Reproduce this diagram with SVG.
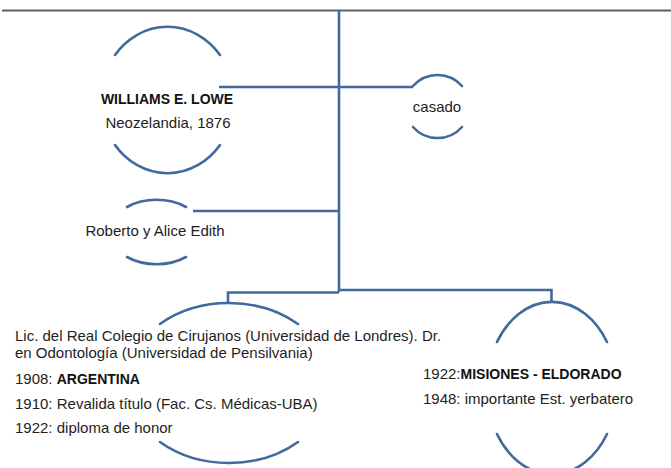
<svg xmlns="http://www.w3.org/2000/svg" width="671" height="468" viewBox="0 0 671 468">
<style>
.ln{fill:none;stroke:#41699d;stroke-width:2.6;stroke-linecap:butt}
.arc{fill:none;stroke:#41699d;stroke-width:2.6;stroke-linecap:round}
text{font-family:"Liberation Sans",Arial,sans-serif;font-size:15px;fill:#1e1e1e}
.b{font-weight:bold;font-size:14px;fill:#111}
.c{text-anchor:middle}
</style>
<rect width="671" height="468" fill="#fff"/>
<line x1="2" y1="10.5" x2="671" y2="10.5" stroke="#5f5f5f" stroke-width="2"/>
<g id="connectors">
<path class="ln" d="M339 10 V292"/>
<path class="ln" d="M219 87 H413"/>
<path class="ln" d="M193 211 H339"/>
<path class="ln" d="M339 292.5 H228 V303.5"/>
<path class="ln" d="M339 290 H551.5 V302"/>
</g>
<g id="williams">
<path class="arc" d="M115 55 A66.5 73 0 0 1 220 55"/>
<path class="arc" d="M115 145 A66.5 73 0 0 0 220 145"/>
<text x="167" y="104" class="b c">WILLIAMS E. LOWE</text>
<text x="168" y="128" class="c">Neozelandia, 1876</text>
</g>
<g id="casado">
<path class="arc" d="M413 86 A32.4 32 0 0 1 462 86"/>
<path class="arc" d="M413 127 A32.4 32 0 0 0 462 127"/>
<text x="437" y="112" class="c">casado</text>
</g>
<g id="hijos">
<path class="arc" d="M127 207 A46.7 32 0 0 1 186 207"/>
<path class="arc" d="M127 257 A46.7 32 0 0 0 186 257"/>
<text x="155" y="236" class="c">Roberto y Alice Edith</text>
</g>
<g id="argentina">
<path class="arc" d="M160 324 A102 79.5 0 0 1 298 324"/>
<path class="arc" d="M160 442 A102 79.5 0 0 0 298 442"/>
<text x="15" y="341">Lic. del Real Colegio de Cirujanos (Universidad de Londres). Dr.</text>
<text x="15" y="358">en Odontología (Universidad de Pensilvania)</text>
<text x="15" y="384">1908: <tspan class="b">ARGENTINA</tspan></text>
<text x="15" y="409">1910: Revalida título (Fac. Cs. Médicas-UBA)</text>
<text x="15" y="433">1922: diploma de honor</text>
</g>
<g id="misiones">
<path class="arc" d="M497 342 A65 86 0 0 1 607 342"/>
<path class="arc" d="M497 434 A65 86 0 0 0 607 434"/>
<text x="423" y="379">1922:<tspan class="b">MISIONES - ELDORADO</tspan></text>
<text x="423" y="404">1948: importante Est. yerbatero</text>
</g>
</svg>
